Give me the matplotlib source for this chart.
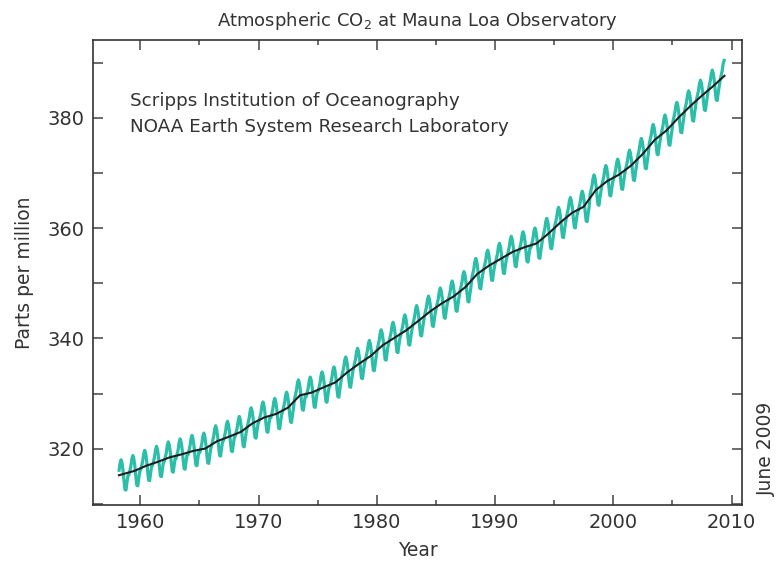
import numpy as np
import matplotlib
matplotlib.use('Agg')
import matplotlib.pyplot as plt
from matplotlib.ticker import MultipleLocator

# annual mean CO2 (ppm), 1958 (Mar-Dec) ... 2009 (Jan-Jun)
years = np.arange(1958, 2010)
annual_mean = [315.2, 315.98, 316.91, 317.64, 318.45, 318.99, 319.62, 320.04,
               321.37, 322.18, 323.05, 324.62, 325.68, 326.32, 327.46, 329.68,
               330.19, 331.13, 332.03, 333.84, 335.41, 336.84, 338.76, 340.12,
               341.48, 343.15, 344.87, 346.35, 347.61, 349.31, 351.69, 353.20,
               354.45, 355.70, 356.54, 357.21, 358.96, 360.97, 362.74, 363.88,
               366.84, 368.54, 369.71, 371.32, 373.45, 375.98, 377.70, 379.98,
               382.09, 384.02, 385.83, 387.6]
# monthly departure from the annual mean (Jan..Dec)
month_offset = [-0.7, 0.1, 0.9, 2.2, 2.8, 2.2, 0.9, -1.0, -2.6, -2.7, -1.3, -0.1]

teal = '#2bbea8'

# monthly record, Mar 1958 .. May 2009
t, co2 = [], []
for y, m in zip(years, annual_mean):
    for k in range(12):
        if (y == 1958 and k < 2) or (y == 2009 and k > 4):
            continue
        t.append(y + (k + 0.5) / 12)
        co2.append(m + month_offset[k])

trend_t = [1958.2] + [y + 0.5 for y in years[1:-1]] + [2009.4]

fig = plt.figure(figsize=(7.76, 5.63), dpi=100)
ax = fig.add_axes([0.1198, 0.103, 0.8366, 0.826])

ax.plot(t, co2, color=teal, lw=2.3)
ax.plot(trend_t, annual_mean, color='#1e1e1e', lw=1.5)

ax.set_xlim(1956, 2010.9)
ax.set_ylim(309.8, 394.1)
ax.xaxis.set_major_locator(MultipleLocator(10))
ax.xaxis.set_minor_locator(MultipleLocator(5))
ax.yaxis.set_major_locator(MultipleLocator(20))
ax.yaxis.set_minor_locator(MultipleLocator(10))
ax.tick_params(which='both', direction='in', top=True, right=True,
               color='#444444', width=1.1, labelsize=14, labelcolor='#333333')
ax.tick_params(which='major', length=7, pad=6)
ax.tick_params(which='minor', length=3.5)
ax.tick_params(axis='y', which='minor', length=7)
for s in ax.spines.values():
    s.set_color('#333333')
    s.set_linewidth(1.2)

ax.set_xlabel('Year', fontsize=13.5, color='#333333', labelpad=6)
ax.set_ylabel('Parts per million', fontsize=13.5, color='#333333', labelpad=10)
ax.set_title('Atmospheric CO$_2$ at Mauna Loa Observatory',
             family=['Liberation Sans Narrow', 'DejaVu Sans'],
             fontsize=13, color='#333333', pad=10)

ax.text(0.057, 0.888, 'Scripps Institution of Oceanography\nNOAA Earth System Research Laboratory',
        transform=ax.transAxes, fontsize=13.2, color='#333333', va='top',
        linespacing=1.6)

fig.text(0.988, 0.203, 'June 2009', rotation=90, fontsize=13.5, color='#333333',
         ha='center', va='center')

fig.savefig('out.png', dpi=100)
